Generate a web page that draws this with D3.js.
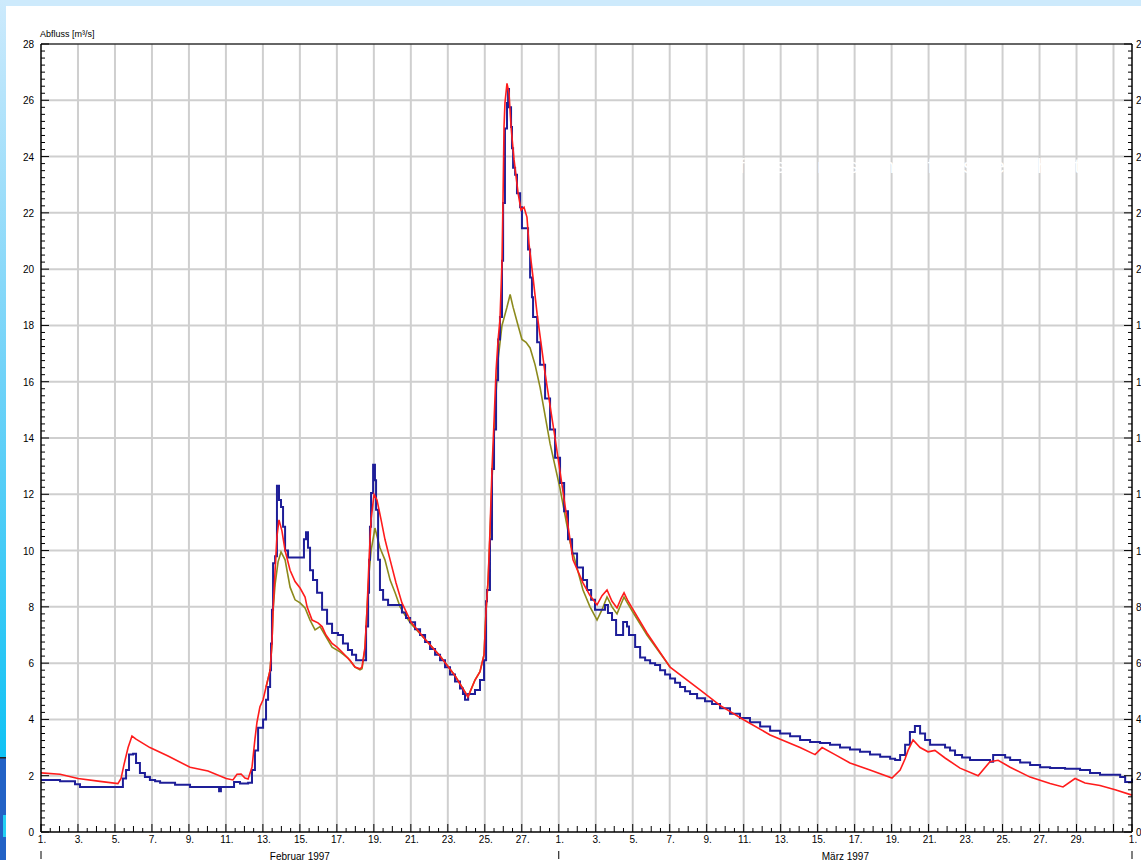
<!DOCTYPE html>
<html>
<head>
<meta charset="utf-8">
<script src="https://cdn.jsdelivr.net/npm/d3@7"></script>
<style>
  body { margin: 0; background: #fff; overflow: hidden; }
  text { font-family: "Liberation Sans", Arial, sans-serif; }
</style>
</head>
<body>
<script>
const w = 1141;
const h = 860;

// days since 1 Feb 1997 00:00, discharge in m3/s
const blueDays = [0, 1.03, 1.84, 2.11, 4.27, 4.43, 4.6, 4.76, 4.98, 5.14, 5.35, 5.62, 5.89, 6.17, 6.44, 7.25, 8.06, 9.57, 9.63, 9.73, 10.38, 10.44, 10.76, 11.2, 11.41, 11.57, 11.74, 12.01, 12.17, 12.28, 12.39, 12.44, 12.49, 12.55, 12.66, 12.76, 12.87, 12.98, 13.09, 13.2, 13.36, 14.12, 14.22, 14.33, 14.44, 14.55, 14.71, 14.93, 15.2, 15.47, 15.74, 16.06, 16.33, 16.6, 16.82, 17.04, 17.47, 17.58, 17.69, 17.74, 17.79, 17.85, 17.96, 18.06, 18.12, 18.23, 18.33, 18.5, 18.77, 19.42, 19.52, 19.74, 19.96, 20.23, 20.5, 20.77, 21.04, 21.31, 21.58, 21.85, 22.12, 22.39, 22.66, 22.82, 22.93, 23.1, 23.47, 23.74, 23.96, 24.07, 24.12, 24.28, 24.39, 24.5, 24.61, 24.72, 24.82, 24.93, 24.99, 25.09, 25.2, 25.26, 25.31, 25.42, 25.47, 25.53, 25.64, 25.74, 25.91, 26.01, 26.28, 26.34, 26.45, 26.55, 26.61, 26.83, 26.99, 27.26, 27.53, 27.8, 28.07, 28.29, 28.5, 28.72, 28.99, 29.31, 29.53, 29.75, 29.96, 30.34, 30.5, 30.66, 30.88, 31.1, 31.42, 31.48, 31.69, 31.8, 32.13, 32.4, 32.67, 32.94, 33.21, 33.48, 33.75, 34.02, 34.29, 34.56, 34.83, 35.1, 35.48, 35.91, 36.29, 36.72, 37.26, 37.8, 38.34, 38.89, 39.43, 39.97, 40.51, 41.05, 41.59, 42.13, 42.67, 43.21, 43.75, 44.29, 44.83, 45.38, 45.92, 46.19, 46.46, 46.73, 46.99, 47.26, 47.54, 47.81, 48.08, 48.89, 49.16, 49.43, 49.81, 50.24, 51.32, 51.49, 51.87, 52.14, 52.41, 52.95, 53.49, 54.03, 54.57, 55.38, 56.19, 56.73, 57.27, 58.36, 58.63, 59];
const blueQ = [1.85, 1.8, 1.7, 1.6, 1.6, 1.9, 2.2, 2.75, 2.78, 2.45, 2.1, 1.95, 1.85, 1.8, 1.75, 1.68, 1.6, 1.6, 1.45, 1.6, 1.6, 1.78, 1.72, 1.75, 2.2, 2.9, 3.7, 4.0, 4.7, 5.15, 5.75, 6.7, 7.9, 9.55, 9.8, 12.3, 11.8, 11.55, 10.85, 10.0, 9.75, 9.75, 10.4, 10.65, 10.1, 9.3, 8.95, 8.5, 7.9, 7.4, 7.07, 7.0, 6.7, 6.47, 6.3, 6.1, 6.1, 7.3, 8.5, 9.67, 10.85, 12.05, 13.05, 12.5, 11.45, 9.67, 8.6, 8.25, 8.07, 8.07, 7.8, 7.6, 7.45, 7.2, 7.0, 6.75, 6.5, 6.3, 6.1, 5.85, 5.6, 5.35, 5.1, 4.9, 4.7, 4.9, 5.05, 5.4, 6.1, 8.2, 8.6, 10.4, 12.9, 14.3, 16.05, 17.5, 18.3, 20.3, 22.35, 25.0, 25.9, 26.4, 25.75, 25.05, 24.3, 23.6, 23.35, 22.7, 22.2, 21.45, 21.45, 20.7, 19.7, 19.0, 18.3, 17.4, 16.6, 15.4, 14.3, 13.3, 12.4, 11.4, 10.4, 9.9, 9.4, 8.95, 8.6, 8.25, 7.9, 7.9, 8.07, 7.78, 7.53, 7.0, 7.0, 7.46, 7.3, 7.0, 6.57, 6.2, 6.1, 6.0, 5.93, 5.75, 5.6, 5.45, 5.3, 5.15, 5.0, 4.9, 4.75, 4.65, 4.55, 4.4, 4.2, 4.05, 3.9, 3.75, 3.6, 3.5, 3.4, 3.27, 3.2, 3.16, 3.1, 3.0, 2.93, 2.85, 2.75, 2.67, 2.6, 2.56, 2.74, 3.1, 3.55, 3.77, 3.5, 3.27, 3.1, 3.0, 2.9, 2.74, 2.65, 2.56, 2.5, 2.74, 2.74, 2.65, 2.56, 2.47, 2.38, 2.3, 2.27, 2.25, 2.2, 2.1, 2.03, 1.95, 1.78, 1.9];

const redDays = [0, 1.03, 2.0, 3.19, 4.16, 4.33, 4.49, 4.71, 4.92, 5.14, 5.89, 6.87, 8.06, 9.03, 10.01, 10.38, 10.6, 10.82, 11.03, 11.2, 11.41, 11.57, 11.68, 11.84, 12.01, 12.17, 12.39, 12.49, 12.55, 12.66, 12.76, 12.87, 13.03, 13.2, 13.47, 13.74, 14.01, 14.28, 14.39, 14.66, 14.98, 15.2, 15.41, 15.74, 16.01, 16.33, 16.71, 16.98, 17.25, 17.36, 17.52, 17.63, 17.74, 17.85, 18.01, 18.17, 18.39, 18.6, 18.88, 19.2, 19.52, 20.01, 20.77, 21.58, 22.39, 23.09, 23.47, 23.74, 23.96, 24.07, 24.18, 24.28, 24.39, 24.5, 24.61, 24.72, 24.82, 24.93, 24.99, 25.04, 25.09, 25.2, 25.31, 25.42, 25.58, 25.8, 25.96, 26.12, 26.28, 26.39, 26.61, 26.83, 27.26, 27.8, 28.34, 28.77, 29.31, 29.69, 30.07, 30.34, 30.61, 30.88, 31.15, 31.37, 31.53, 31.75, 32.02, 32.77, 34.02, 35.64, 36.72, 38.02, 39.43, 41.05, 41.86, 42.24, 42.94, 43.75, 44.83, 46.02, 46.46, 46.73, 46.89, 47.16, 47.54, 47.97, 48.34, 48.89, 49.7, 50.68, 51.32, 51.76, 52.41, 53.49, 54.57, 55.27, 55.92, 56.46, 57.27, 58.09, 59];
const redQ = [2.1, 2.05, 1.9, 1.8, 1.72, 1.9, 2.4, 3.0, 3.41, 3.3, 3.0, 2.7, 2.3, 2.17, 1.9, 1.85, 2.05, 2.06, 1.92, 1.88, 2.3, 3.3, 3.9, 4.45, 4.7, 5.15, 5.75, 6.7, 7.9, 9.3, 10.5, 11.09, 10.7, 10.0, 9.3, 8.9, 8.67, 8.35, 8.0, 7.53, 7.43, 7.3, 7.0, 6.7, 6.57, 6.36, 6.1, 5.86, 5.8, 5.86, 6.57, 7.9, 9.67, 11.1, 12.0, 11.8, 11.1, 10.4, 9.67, 8.85, 8.14, 7.46, 6.85, 6.25, 5.55, 4.8, 5.4, 5.7, 6.3, 7.9, 8.95, 10.7, 12.9, 14.6, 16.4, 17.5, 18.2, 20.26, 22.7, 25.05, 25.9, 26.6, 26.25, 25.05, 23.9, 22.7, 22.1, 22.2, 21.85, 20.9, 19.7, 18.4, 16.3, 14.0, 11.6, 9.67, 8.85, 8.4, 8.07, 8.4, 8.6, 8.2, 7.96, 8.3, 8.5, 8.2, 7.9, 7.07, 5.86, 5.05, 4.5, 3.98, 3.45, 3.0, 2.75, 3.0, 2.75, 2.45, 2.2, 1.92, 2.2, 2.6, 2.9, 3.27, 3.0, 2.85, 2.9, 2.63, 2.27, 2.0, 2.5, 2.55, 2.3, 1.95, 1.72, 1.6, 1.9, 1.74, 1.65, 1.5, 1.31];

const oliveDays = [12.17, 12.39, 12.49, 12.55, 12.66, 12.82, 12.98, 13.2, 13.47, 13.74, 14.01, 14.28, 14.55, 14.82, 15.09, 15.36, 15.74, 16.17, 16.6, 16.98, 17.25, 17.36, 17.52, 17.63, 17.74, 17.85, 18.06, 18.33, 18.6, 18.88, 19.15, 19.42, 19.69, 20.01, 20.77, 21.58, 22.39, 23.09, 23.47, 23.74, 23.96, 24.07, 24.18, 24.28, 24.39, 24.5, 24.61, 24.72, 24.93, 25.2, 25.37, 25.53, 25.8, 26.01, 26.23, 26.45, 26.72, 26.99, 27.53, 28.07, 28.61, 29.31, 29.69, 30.07, 30.34, 30.61, 30.88, 31.15, 31.37, 31.53, 31.75, 32.02, 32.77, 34.02];
const oliveQ = [5.15, 5.75, 6.7, 7.9, 8.8, 9.6, 9.95, 9.67, 8.7, 8.25, 8.14, 7.96, 7.53, 7.18, 7.3, 7.0, 6.57, 6.4, 6.18, 5.86, 5.76, 5.8, 6.5, 7.9, 9.2, 10.0, 10.8, 10.1, 9.67, 8.95, 8.5, 8.0, 7.7, 7.4, 6.85, 6.25, 5.55, 4.8, 5.4, 5.7, 6.3, 7.9, 8.95, 10.5, 12.5, 14.0, 15.6, 16.8, 18.0, 18.65, 19.1, 18.65, 18.0, 17.5, 17.4, 17.2, 16.6, 15.8, 13.8, 12.2, 10.3, 8.6, 8.0, 7.53, 7.9, 8.35, 8.0, 7.75, 8.1, 8.35, 8.1, 7.8, 7.0, 5.86];

const yTicks = [0, 2, 4, 6, 8, 10, 12, 14, 16, 18, 20, 22, 24, 26, 28];
const months = [{ name: "Februar 1997", start: 0, end: 28 }, { name: "März 1997", start: 28, end: 59 }];

const start = new Date(1997, 1, 1);
const toDate = d => new Date(start.getTime() + d * 864e5);

const padL = 41, padR = 1132, padT = 44, padB = 832;

const x = d3.scaleTime().domain([start, toDate(59)]).range([padL, padR]);
const y = d3.scaleLinear().domain([0, 28]).range([padB, padT]);

const svg = d3.select("body").append("svg").attr("width", w).attr("height", h);

// slide decoration
const grad = svg.append("defs").append("linearGradient")
  .attr("id", "edge").attr("x1", 0).attr("y1", 0).attr("x2", 0).attr("y2", 1);
grad.append("stop").attr("offset", "0%").attr("stop-color", "#cdeafc");
grad.append("stop").attr("offset", "50%").attr("stop-color", "#6fd2f8");
grad.append("stop").attr("offset", "100%").attr("stop-color", "#10c2f4");
svg.append("rect").attr("width", w).attr("height", h).attr("fill", "#fff");
svg.append("rect").attr("width", w).attr("height", 6).attr("fill", "#cdeafc");
svg.append("rect").attr("width", 6).attr("height", 758).attr("fill", "url(#edge)");
svg.append("rect").attr("y", 758).attr("width", 6).attr("height", 102).attr("fill", "#2262c6");
svg.append("rect").attr("y", 757).attr("width", 6).attr("height", 1.5).attr("fill", "#222");
svg.append("rect").attr("x", 3).attr("y", 815).attr("width", 3).attr("height", 22).attr("fill", "#22d0f4");

// grid
const gridDays = d3.range(2, 59, 2);
svg.append("g").selectAll("line").data(gridDays).join("line")
  .attr("x1", d => x(toDate(d))).attr("x2", d => x(toDate(d)))
  .attr("y1", padT).attr("y2", padB)
  .attr("stroke", "#cfcfcf").attr("stroke-width", 2);
svg.append("g").selectAll("line").data(yTicks.slice(1, -1)).join("line")
  .attr("x1", padL).attr("x2", padR)
  .attr("y1", d => y(d)).attr("y2", d => y(d))
  .attr("stroke", "#cfcfcf").attr("stroke-width", 2);

// faint white caption over the grid
svg.append("text").attr("x", 712).attr("y", 173)
  .attr("fill", "#fff").style("font-size", "21px")
  .attr("textLength", 368)
  .text("Abfluss gemessen     Abfluss berechnet");

// series
const line = d3.line().x(d => x(toDate(d[0]))).y(d => y(d[1]));
svg.append("path").datum(d3.zip(oliveDays, oliveQ))
  .attr("d", line).attr("fill", "none").attr("stroke", "#8c8a1c").attr("stroke-width", 1.6);
svg.append("path").datum(d3.zip(blueDays, blueQ))
  .attr("d", line.curve(d3.curveStepAfter)).attr("fill", "none").attr("stroke", "#1e1e98").attr("stroke-width", 2);
svg.append("path").datum(d3.zip(redDays, redQ))
  .attr("d", line.curve(d3.curveLinear)).attr("fill", "none").attr("stroke", "#ff1c1c").attr("stroke-width", 1.6);

// frame
svg.append("line").attr("x1", padL).attr("x2", padR).attr("y1", padT).attr("y2", padT)
  .attr("stroke", "#333").attr("stroke-width", 1.5);

// y axes
const yMinor = d3.range(0, 28.01, 0.25);
const axisL = svg.append("g");
axisL.append("line").attr("x1", padL).attr("x2", padL).attr("y1", padT).attr("y2", padB).attr("stroke", "#000").attr("stroke-width", 1.5);
axisL.selectAll(".t").data(yMinor).join("line")
  .attr("x1", padL).attr("x2", d => padL + (d % 2 === 0 ? 8 : 4))
  .attr("y1", d => y(d)).attr("y2", d => y(d)).attr("stroke", "#000");
axisL.selectAll("text").data(yTicks).join("text")
  .attr("x", padL - 7).attr("y", d => y(d) + 4)
  .attr("text-anchor", "end").style("font-size", "10px").text(d => d);

const axisR = svg.append("g");
axisR.append("line").attr("x1", padR).attr("x2", padR).attr("y1", padT).attr("y2", padB).attr("stroke", "#000").attr("stroke-width", 1.5);
axisR.selectAll(".t").data(yMinor).join("line")
  .attr("x1", padR).attr("x2", d => padR - (d % 2 === 0 ? 8 : 4))
  .attr("y1", d => y(d)).attr("y2", d => y(d)).attr("stroke", "#000");
axisR.selectAll("text").data(yTicks).join("text")
  .attr("x", padR + 4).attr("y", d => y(d) + 4)
  .style("font-size", "10px").text(d => d);

svg.append("text").attr("x", padL - 1).attr("y", 37)
  .style("font-size", "9px").text("Abfluss [m³/s]");

// x axis
const xMinor = d3.range(0, 59.01, 0.5);
const labelDays = d3.range(0, 57, 2).concat([59]);
const axisB = svg.append("g");
axisB.append("line").attr("x1", padL).attr("x2", padR).attr("y1", padB).attr("y2", padB).attr("stroke", "#000").attr("stroke-width", 1.5);
axisB.selectAll(".t").data(xMinor).join("line")
  .attr("x1", d => x(toDate(d))).attr("x2", d => x(toDate(d)))
  .attr("y1", padB)
  .attr("y2", d => padB - (labelDays.includes(d) || d === 58 ? 8 : d % 1 === 0 ? 6 : 4))
  .attr("stroke", "#000");
axisB.selectAll("text").data(labelDays).join("text")
  .attr("x", d => x(toDate(d)) + 1).attr("y", 843)
  .attr("text-anchor", "middle").style("font-size", "10px")
  .text(d => d3.timeFormat("%-d")(toDate(d)) + ".");

// month marks and names
const bounds = [0, 28, 59];
svg.append("g").selectAll("line").data(bounds).join("line")
  .attr("x1", d => x(toDate(d))).attr("x2", d => x(toDate(d)))
  .attr("y1", 851).attr("y2", 859).attr("stroke", "#000");
svg.append("g").selectAll("text").data(months).join("text")
  .attr("x", d => x(toDate((d.start + d.end) / 2)))
  .attr("y", 860).attr("text-anchor", "middle").style("font-size", "10px")
  .text(d => d.name);
</script>
</body>
</html>
